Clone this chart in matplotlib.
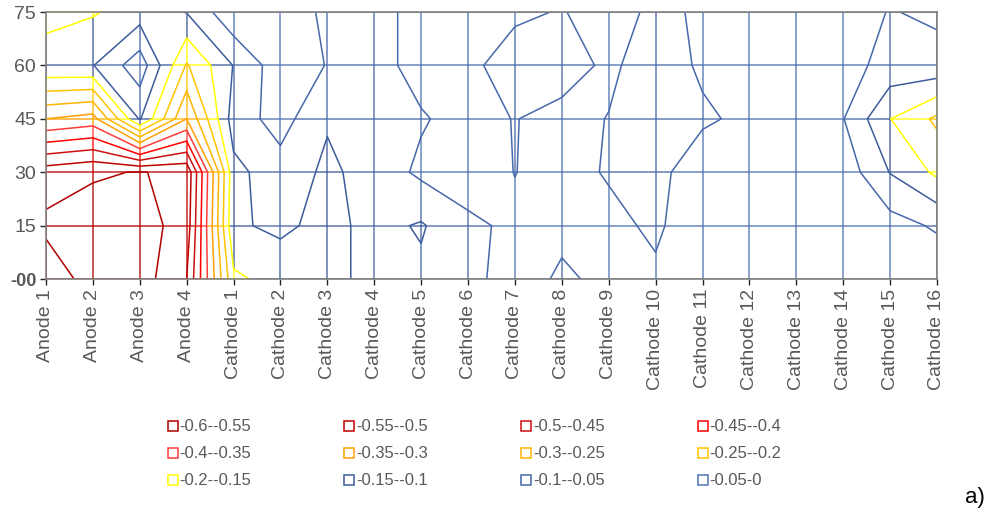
import numpy as np
import matplotlib
matplotlib.use("Agg")
import matplotlib.pyplot as plt
from matplotlib.collections import LineCollection
from matplotlib.lines import Line2D

plt.rcParams["font.family"] = ["Liberation Sans", "DejaVu Sans"]

# electrode positions along the cell
electrodes = ["Anode 1", "Anode 2", "Anode 3", "Anode 4"] + [f"Cathode {i}" for i in range(1, 17)]
heights = [0, 15, 30, 45, 60, 75]
# the origin label is a pile-up of labels in the original chart
height_labels = ["-00", "15", "30", "45", "60", "75"]

# potential values, one row per height
z_y0 = [-0.52, -0.57, -0.575, -0.50, -0.16, -0.13, -0.12, -0.08, -0.09, -0.07,
        -0.02, -0.06, -0.035, -0.04, -0.02, -0.02, -0.02, -0.02, -0.02, -0.01]
z_y15 = [-0.56, -0.57, -0.57, -0.53, -0.107, -0.09, -0.115, -0.085, -0.105, -0.06,
         -0.04, -0.035, -0.035, -0.06, -0.01, -0.02, -0.02, -0.02, -0.03, -0.057]
z_y30 = [-0.527, -0.545, -0.552, -0.54, -0.115, -0.07, -0.11, -0.08, -0.04, -0.025,
         -0.051, -0.03, -0.055, -0.07, -0.01, -0.02, -0.02, -0.02, -0.102, -0.16]
z_y45 = [-0.30, -0.32, -0.095, -0.30, -0.076, -0.03, -0.095, -0.07, -0.055, -0.03,
         -0.052, -0.03, -0.052, -0.075, -0.06, -0.035, -0.03, -0.048, -0.149, -0.21]
z_y60 = [-0.106, -0.102, -0.02, -0.205, -0.098, -0.02, -0.052, -0.07, -0.03, -0.03,
         -0.09, -0.08, -0.037, -0.085, -0.04, -0.03, -0.025, -0.03, -0.068, -0.065]
z_y75 = [-0.18, -0.155, -0.125, -0.098, -0.011, -0.02, -0.06, -0.07, -0.03, -0.03,
         -0.035, -0.055, -0.01, -0.07, -0.038, -0.03, -0.025, -0.03, -0.052, -0.0425]

band_labels = ["-0.6--0.55", "-0.55--0.5", "-0.5--0.45", "-0.45--0.4",
               "-0.4--0.35", "-0.35--0.3", "-0.3--0.25", "-0.25--0.2",
               "-0.2--0.15", "-0.15--0.1", "-0.1--0.05", "-0.05-0"]
band_colors = ["#B00000", "#C00000", "#CC1010", "#FF0000",
               "#FF3C3C", "#FFA000", "#FFB400", "#FFC400",
               "#FFFF00", "#3D5C9C", "#4668AA", "#5073B4"]
z_min, band_step = -0.6, 0.05

Z = np.array([z_y0, z_y15, z_y30, z_y45, z_y60, z_y75])
xs = np.arange(len(electrodes))
ys = np.array(heights)


def band_of(v):
    return np.clip(np.floor((v - z_min) / band_step), 0, len(band_colors) - 1).astype(int)


def mesh_segments(n_sub=30):
    """Wireframe lines, split into short pieces coloured by value band."""
    segs, cols = [], []
    t = np.linspace(0, 1, n_sub + 1)
    for i in xs:
        for j in range(len(ys) - 1):
            yy = ys[j] + t * (ys[j + 1] - ys[j])
            vv = Z[j, i] + t * (Z[j + 1, i] - Z[j, i])
            for k in range(n_sub):
                segs.append([(i, yy[k]), (i, yy[k + 1])])
                cols.append(band_colors[band_of(0.5 * (vv[k] + vv[k + 1]))])
    for j in range(len(ys)):
        for i in range(len(xs) - 1):
            xx = xs[i] + t
            vv = Z[j, i] + t * (Z[j, i + 1] - Z[j, i])
            for k in range(n_sub):
                segs.append([(xx[k], ys[j]), (xx[k + 1], ys[j])])
                cols.append(band_colors[band_of(0.5 * (vv[k] + vv[k + 1]))])
    return segs, cols


fig = plt.figure(figsize=(9.95, 5.23), dpi=100)
ax = fig.add_axes([0.0462, 0.4665, 0.8955, 0.5105])

segs, cols = mesh_segments()
ax.add_collection(LineCollection(segs, colors=cols, linewidths=1.1, alpha=0.85, zorder=1))

# contour lines take the colour of the band just below them
levels = np.round(np.arange(-0.55, -0.04, band_step), 2)
line_colors = band_colors[:len(levels)]
ax.contour(xs, ys, Z, levels=levels, colors=line_colors, linewidths=1.1, zorder=2)

ax.set_xlim(0, len(electrodes) - 1)
ax.set_ylim(0, 75)
ax.set_xticks(xs)
ax.set_xticklabels(electrodes, rotation=90, fontsize=14, color="#595959")
ax.set_yticks(heights)
ax.set_yticklabels(height_labels, fontsize=14, color="#595959")
ax.get_yticklabels()[0].set_fontsize(13)
ax.get_yticklabels()[0].set_fontweight("bold")
ax.tick_params(axis="both", length=4, width=1, color="#262626", pad=3)
for side in ["left", "right", "top", "bottom"]:
    ax.spines[side].set_color("#808080")
    ax.spines[side].set_linewidth(1.2)
    ax.spines[side].set_zorder(3)

order = [0, 4, 8, 1, 5, 9, 2, 6, 10, 3, 7, 11]
handles = [Line2D([], [], linestyle="none", marker="s", markersize=7.5,
                  markerfacecolor="white", markeredgecolor=band_colors[k],
                  markeredgewidth=1.1) for k in order]
fig.legend(handles, [band_labels[k] for k in order], ncol=4, loc="center",
           bbox_to_anchor=(0.477, 0.132), frameon=False, fontsize=12,
           labelcolor="#595959", handlelength=0.6, handletextpad=0.1,
           columnspacing=5.6, labelspacing=0.72)

fig.text(0.99, 1 - 497 / 523, "a)", ha="right", va="center", fontsize=16)

fig.savefig("out.png", dpi=100)
